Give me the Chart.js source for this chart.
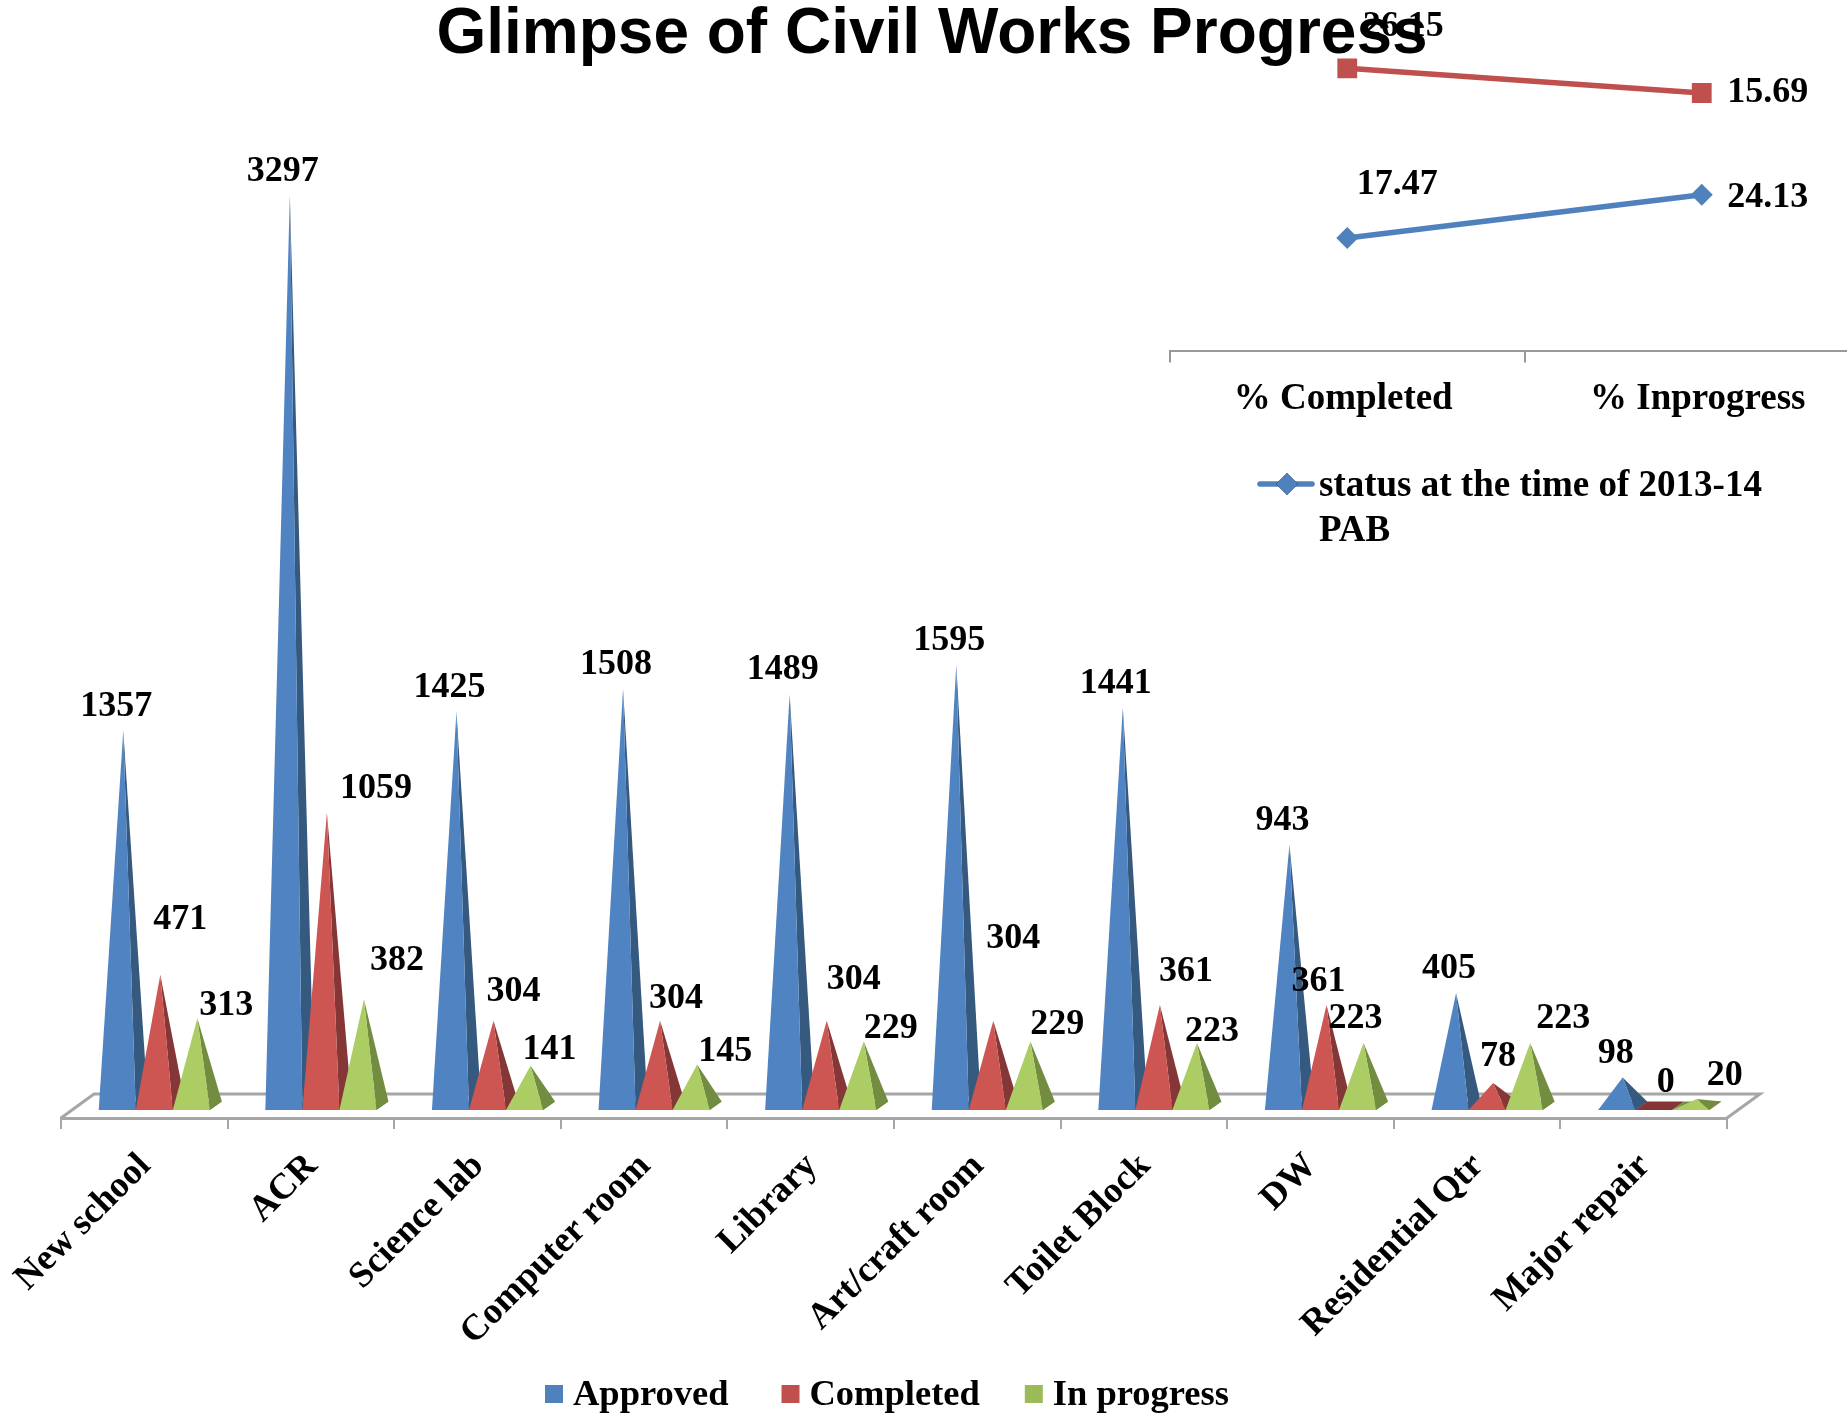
<!DOCTYPE html>
<html>
<head>
<meta charset="utf-8">
<title>Glimpse of Civil Works Progress</title>
<script src="https://cdn.jsdelivr.net/npm/chart.js@4"></script>
<style>
html, body { margin: 0; padding: 0; background: #fff; overflow: hidden; width: 1847px; height: 1416px; }
#mainChart { position: absolute; left: 0; top: 0; }
#insetChart { position: absolute; left: 1100px; top: 0; }
</style>
</head>
<body>
<canvas id="mainChart" width="1847" height="1416"></canvas>
<canvas id="insetChart" width="779" height="560"></canvas>
<script>
const categories = ['New school', 'ACR', 'Science lab', 'Computer room', 'Library', 'Art/craft room', 'Toilet Block', 'DW', 'Residential Qtr', 'Major repair'];
const approved = [1357, 3297, 1425, 1508, 1489, 1595, 1441, 943, 405, 98];
const completed = [471, 1059, 304, 304, 304, 304, 361, 361, 78, 0];
const inProgress = [313, 382, 141, 145, 229, 229, 223, 223, 223, 20];

const statusCategories = ['% Completed', '% Inprogress'];
const status2013 = [17.47, 24.13];
const statusNow = [26.15, 15.69];

// hand placed labels in the original, offset from the tip of each pyramid
const approvedNudge = [[-7, -29], [-7, -29], [-7, -29], [-7, -29], [-7, -29], [-7, -29], [-7, -29], [-7, -29], [-7, -29], [-7, -29]];
const completedNudge = [[20, -60], [49, -29], [20, -34], [16, -27], [27, -46], [20, -87], [26, -38], [-8, -28], [5, -31], [6, -27]];
const inProgressNudge = [[29, -18], [33, -44], [19, -21], [28, -18], [27, -18], [27, -22], [15, -16], [-8, -29], [33, -29], [28, -28]];
const nudges = [approvedNudge, completedNudge, inProgressNudge];
const statusNudge = [[[50, -53], [66, 3]], [[56, -42], [66, 0]]];
const legendGaps = [53, 45, 0];

const sideColors = ['#36597f', '#853636', '#728c40'];
const frontColors = ['#5083c1', '#cd5552', '#abcd63'];
const serif = "'Liberation Serif', serif";

const shiftX = 10;   // pyramids sit a bit right of the category centre
const depthX = 12;
const floorX = 33;
const floorY = 24;

const pyramidPlugin = {
    id: 'pyramids',
    beforeDatasetsDraw(chart) {
        // floor of the 3d chart
        const a = chart.chartArea, ctx = chart.ctx;
        ctx.save();
        ctx.strokeStyle = '#a6a6a6';
        ctx.lineWidth = 3;
        ctx.beginPath();
        ctx.moveTo(a.left, a.bottom);
        ctx.lineTo(a.left + floorX, a.bottom - floorY);
        ctx.lineTo(a.right + floorX, a.bottom - floorY);
        ctx.lineTo(a.right, a.bottom);
        ctx.stroke();
        ctx.restore();
    },
    beforeDatasetDraw() {
        return false;
    },
    afterDatasetsDraw(chart) {
        const ctx = chart.ctx;
        const tri = function(color, pts) {
            ctx.fillStyle = color;
            ctx.beginPath();
            pts.forEach(function(p, i) { i ? ctx.lineTo(p[0], p[1]) : ctx.moveTo(p[0], p[1]); });
            ctx.closePath();
            ctx.fill();
        };
        ctx.save();
        chart.data.datasets.forEach(function(ds, i) {
            chart.getDatasetMeta(i).data.forEach(function(el) {
                const cx = el.x + shiftX, left = cx - el.width / 2, right = cx + el.width / 2;
                const front = el.base + 5.5, back = el.base - 3;
                const apex = [cx + 6, el.y];
                tri(sideColors[i], [[left, front], [right, front], [right + depthX, back], [left + depthX, back]]);
                if (el.base - el.y > 1) {
                    tri(sideColors[i], [[right, front], [right + depthX, back], apex]);
                    tri(frontColors[i], [[left, front], [right, front], apex]);
                }
            });
        });
        ctx.font = 'bold 36px ' + serif;
        ctx.fillStyle = '#000';
        ctx.textAlign = 'center';
        ctx.textBaseline = 'middle';
        chart.data.datasets.forEach(function(ds, i) {
            chart.getDatasetMeta(i).data.forEach(function(el, j) {
                ctx.fillText(ds.data[j], el.x + shiftX + 6 + nudges[i][j][0], el.y + nudges[i][j][1] + 5);
            });
        });
        // title and legend sit off-centre in the original
        ctx.font = "bold 64px 'Liberation Sans', sans-serif";
        ctx.fillText('Glimpse of Civil Works Progress', 932, 35);
        ctx.font = 'bold 36.5px ' + serif;
        ctx.textAlign = 'left';
        let x = 545;
        chart.data.datasets.forEach(function(ds, i) {
            ctx.fillStyle = ds.backgroundColor;
            ctx.fillRect(x, 1385, 18, 18);
            ctx.fillStyle = '#000';
            ctx.fillText(ds.label, x + 28, 1396);
            x += 28 + ctx.measureText(ds.label).width + legendGaps[i];
        });
        ctx.restore();
    }
};

new Chart(document.getElementById('mainChart'), {
    type: 'bar',
    data: {
        labels: categories,
        datasets: [
            { label: 'Approved', data: approved, backgroundColor: '#4f81bd' },
            { label: 'Completed', data: completed, backgroundColor: '#c0504d' },
            { label: 'In progress', data: inProgress, backgroundColor: '#9bbb59' }
        ]
    },
    plugins: [pyramidPlugin],
    options: {
        responsive: false,
        animation: false,
        categoryPercentage: 0.667,
        barPercentage: 1,
        layout: { padding: { left: 61, right: 120 } },
        plugins: {
            title: { display: false },
            legend: { display: false },
            tooltip: { enabled: false }
        },
        scales: {
            x: {
                grid: { offset: true, drawOnChartArea: false, tickLength: 11, color: '#a6a6a6', lineWidth: 2 },
                border: { color: '#a6a6a6', width: 3 },
                ticks: {
                    autoSkip: false,
                    minRotation: 45,
                    maxRotation: 45,
                    padding: 16,
                    labelOffset: 1,
                    color: '#000',
                    font: { family: serif, size: 36.5, weight: 'bold' }
                },
                afterFit: function(scale) { scale.height = 298; }
            },
            y: { display: false, min: -48.6, max: 4006.5 }
        }
    }
});

const statusPlugin = {
    id: 'statusLabels',
    afterDatasetsDraw(chart) {
        const ctx = chart.ctx;
        ctx.save();
        ctx.font = 'bold 36px ' + serif;
        ctx.fillStyle = '#000';
        ctx.textAlign = 'center';
        ctx.textBaseline = 'middle';
        chart.data.datasets.forEach(function(ds, i) {
            chart.getDatasetMeta(i).data.forEach(function(pt, j) {
                ctx.fillText(ds.data[j], pt.x + statusNudge[i][j][0], pt.y + statusNudge[i][j][1]);
            });
        });
        // legend of the first series only, wrapped on two lines like the original
        const ds = chart.data.datasets[0];
        ctx.strokeStyle = ds.borderColor;
        ctx.lineWidth = 5.5;
        ctx.lineCap = 'round';
        ctx.beginPath();
        ctx.moveTo(160, 484);
        ctx.lineTo(212, 484);
        ctx.stroke();
        Chart.helpers.drawPoint(ctx, { pointStyle: 'rectRot', radius: 11, borderWidth: 0 }, 187, 484);
        ctx.fillStyle = ds.backgroundColor;
        ctx.fill();
        ctx.fillStyle = '#000';
        ctx.textAlign = 'left';
        ctx.font = 'bold 37px ' + serif;
        ctx.fillText('status at the time of 2013-14', 219, 486);
        ctx.fillText('PAB', 219, 531);
        ctx.restore();
    }
};

new Chart(document.getElementById('insetChart'), {
    type: 'line',
    data: {
        labels: statusCategories,
        datasets: [
            { label: 'status at the time of 2013-14 PAB', data: status2013, borderColor: '#4f81bd', backgroundColor: '#4f81bd', pointStyle: 'rectRot', pointRadius: 11, borderWidth: 5.5, pointBorderWidth: 0, fill: false, tension: 0 },
            { label: 'current status', data: statusNow, borderColor: '#c0504d', backgroundColor: '#c0504d', pointStyle: 'rect', pointRadius: 14, borderWidth: 5.5, pointBorderWidth: 0, fill: false, tension: 0 }
        ]
    },
    plugins: [statusPlugin],
    options: {
        responsive: false,
        animation: false,
        layout: { autoPadding: false, padding: { left: 70, right: 0 } },
        plugins: {
            legend: { display: false },
            title: { display: false },
            tooltip: { enabled: false }
        },
        scales: {
            x: {
                offset: true,
                grid: { offset: true, drawOnChartArea: false, tickLength: 11, color: '#999999', lineWidth: 2 },
                border: { color: '#999999', width: 2 },
                ticks: {
                    maxRotation: 0,
                    padding: 15,
                    labelOffset: -4,
                    color: '#000',
                    font: { family: serif, size: 37, weight: 'bold' }
                },
                afterFit: function(scale) { scale.height = 208.6; }
            },
            y: { display: false, stacked: true, min: 0, max: 54.15 }
        }
    }
});
</script>
</body>
</html>
